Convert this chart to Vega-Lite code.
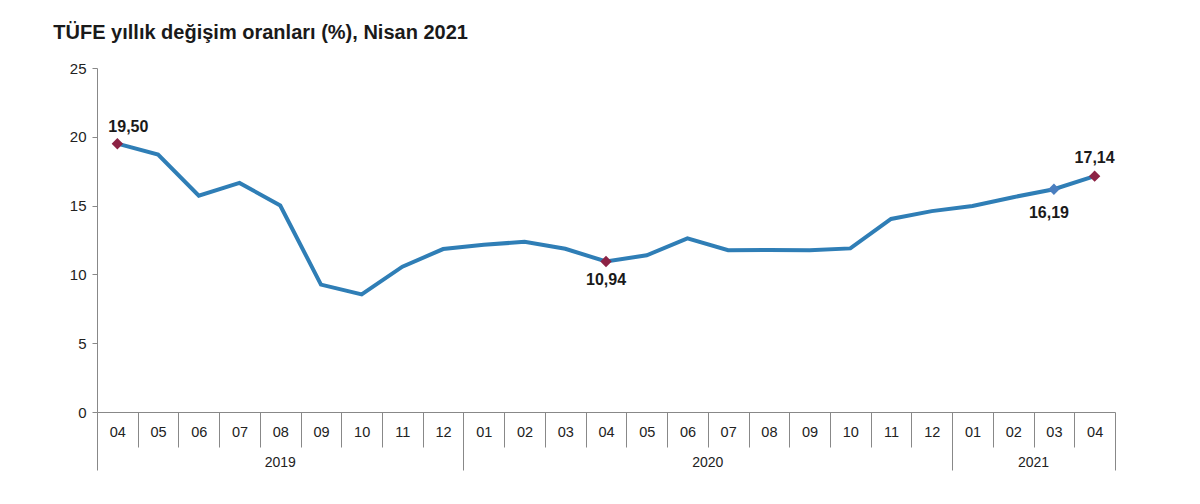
{
  "$schema": "https://vega.github.io/schema/vega-lite/v6.json",
  "autosize": "none",
  "width": 1018,
  "height": 344,
  "padding": {"left": 97, "top": 68, "right": 85, "bottom": 92},
  "background": "white",
  "config": {
    "locale": {"number": {"decimal": ",", "thousands": ".", "grouping": [3], "currency": ["", " TL"]}},
    "view": {"stroke": null},
    "font": "Liberation Sans"
  },
  "title": {
    "text": "TÜFE yıllık değişim oranları (%), Nisan 2021",
    "anchor": "start",
    "dx": -16,
    "offset": 18,
    "fontSize": 20,
    "fontWeight": "bold",
    "color": "#1a1a1a",
    "font": "Liberation Sans"
  },
  "data": {
    "values": [
      {"ay": "2019-04", "v": 19.50},
      {"ay": "2019-05", "v": 18.71},
      {"ay": "2019-06", "v": 15.72},
      {"ay": "2019-07", "v": 16.65},
      {"ay": "2019-08", "v": 15.01},
      {"ay": "2019-09", "v": 9.26},
      {"ay": "2019-10", "v": 8.55},
      {"ay": "2019-11", "v": 10.56},
      {"ay": "2019-12", "v": 11.84},
      {"ay": "2020-01", "v": 12.15},
      {"ay": "2020-02", "v": 12.37},
      {"ay": "2020-03", "v": 11.86},
      {"ay": "2020-04", "v": 10.94},
      {"ay": "2020-05", "v": 11.39},
      {"ay": "2020-06", "v": 12.62},
      {"ay": "2020-07", "v": 11.76},
      {"ay": "2020-08", "v": 11.77},
      {"ay": "2020-09", "v": 11.75},
      {"ay": "2020-10", "v": 11.89},
      {"ay": "2020-11", "v": 14.03},
      {"ay": "2020-12", "v": 14.60},
      {"ay": "2021-01", "v": 14.97},
      {"ay": "2021-02", "v": 15.61},
      {"ay": "2021-03", "v": 16.19},
      {"ay": "2021-04", "v": 17.14}
    ]
  },
  "encoding": {
    "x": {"field": "ay", "type": "ordinal", "sort": null, "scale": {"type": "band", "paddingInner": 0, "paddingOuter": 0}},
    "y": {"field": "v", "type": "quantitative", "scale": {"domain": [0, 25], "nice": false, "zero": true}}
  },
  "layer": [
    {
      "mark": {"type": "line", "color": "#2F7EB6", "strokeWidth": 4},
      "encoding": {
        "x": {
          "field": "ay", "type": "ordinal", "sort": null,
          "axis": {
            "title": null,
            "labelAngle": 0,
            "labelExpr": "datum.value ? substring(datum.value, 5) : ''",
            "labelFontSize": 14.5,
            "labelColor": "#222",
            "labelBaseline": "middle",
            "domainColor": "#888",
            "tickColor": "#888",
            "tickBand": "extent",
            "tickSize": {"condition": {"test": "datum.extra || datum.value == '2019-12' || datum.value == '2020-12' || datum.value == '2021-04'", "value": 58}, "value": 35},
            "labelPadding": {"condition": {"test": "datum.extra || datum.value == '2019-12' || datum.value == '2020-12' || datum.value == '2021-04'", "value": -38}, "value": -15}
          }
        },
        "y": {
          "field": "v", "type": "quantitative",
          "axis": {
            "title": null,
            "values": [0, 5, 10, 15, 20, 25],
            "grid": false,
            "domainColor": "#888",
            "tickColor": "#888",
            "tickSize": 5,
            "labelPadding": 6,
            "labelFontSize": 15,
            "labelColor": "#222"
          }
        }
      }
    },
    {
      "transform": [{"filter": "indexof(['2019-04', '2020-04', '2021-03', '2021-04'], datum.ay) >= 0"}],
      "mark": {"type": "point", "shape": "diamond", "filled": true, "size": 130, "opacity": 1},
      "encoding": {
        "x": {
          "field": "ay", "type": "ordinal", "sort": null,
          "axis": {
            "orient": "bottom",
            "title": null,
            "values": ["2019-08", "2020-07", "2021-03"],
            "labelExpr": "substring(datum.value, 0, 4)",
            "labelAngle": 0,
            "ticks": false,
            "tickSize": 0,
            "domain": false,
            "labelPadding": 50,
            "labelBaseline": "middle",
            "labelFontSize": 14,
            "labelColor": "#222",
            "labelOffset": {"condition": {"test": "datum.value == '2019-08'", "value": 0}, "value": -20.36}
          }
        },
        "color": {"condition": {"test": "datum.ay == '2021-03'", "value": "#4A7EBF"}, "value": "#8C2244"}
      }
    },
    {
      "transform": [{"filter": "datum.ay == '2021-04'"}],
      "mark": {"type": "text", "dy": -18, "fontSize": 16, "fontWeight": "bold", "color": "#1a1a1a"},
      "encoding": {
        "x": {"field": "ay", "type": "ordinal", "sort": null, "axis": null},
        "text": {"field": "v", "type": "quantitative", "format": ".2f"}
      }
    },
    {
      "transform": [{"filter": "datum.ay == '2019-04'"}],
      "mark": {"type": "text", "dy": -17, "dx": -9, "align": "left", "fontSize": 16, "fontWeight": "bold", "color": "#1a1a1a"},
      "encoding": {
        "x": {"field": "ay", "type": "ordinal", "sort": null, "axis": null},
        "text": {"field": "v", "type": "quantitative", "format": ".2f"}
      }
    },
    {
      "transform": [{"filter": "datum.ay == '2020-04'"}],
      "mark": {"type": "text", "dy": 19, "fontSize": 16, "fontWeight": "bold", "color": "#1a1a1a"},
      "encoding": {
        "x": {"field": "ay", "type": "ordinal", "sort": null, "axis": null},
        "text": {"field": "v", "type": "quantitative", "format": ".2f"}
      }
    },
    {
      "transform": [{"filter": "datum.ay == '2021-03'"}],
      "mark": {"type": "text", "dy": 24, "dx": -5, "fontSize": 16, "fontWeight": "bold", "color": "#1a1a1a"},
      "encoding": {
        "x": {"field": "ay", "type": "ordinal", "sort": null, "axis": null},
        "text": {"field": "v", "type": "quantitative", "format": ".2f"}
      }
    }
  ],
  "resolve": {"axis": {"x": "independent"}}
}
